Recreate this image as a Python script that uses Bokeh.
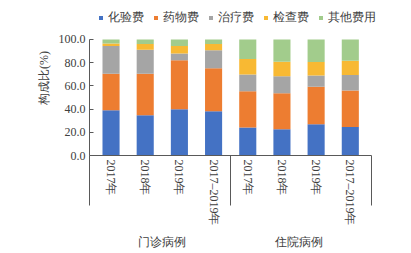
from bokeh.plotting import figure
from bokeh.models import (ColumnDataSource, Range1d, FixedTicker, NumeralTickFormatter,
                          Legend, LinearAxis, Title)
from bokeh.embed import file_html
from bokeh.resources import INLINE

# ---- data ----
years = ["2017年", "2018年", "2019年", "2017–2019年", "2017年", "2018年", "2019年", "2017–2019年"]
groups = ["门诊病例", "住院病例"]
series = ["化验费", "药物费", "治疗费", "检查费", "其他费用"]
lab = [39.0, 34.7, 39.8, 38.1, 24.1, 22.6, 26.9, 24.6]      # 化验费
drug = [31.5, 35.8, 42.4, 37.0, 31.2, 31.0, 32.4, 31.5]     # 药物费
treat = [23.8, 20.6, 5.8, 15.7, 14.6, 14.8, 9.7, 13.2]      # 治疗费
exam = [2.3, 4.9, 6.3, 5.2, 13.2, 12.4, 11.5, 12.4]         # 检查费
other = [3.4, 4.0, 5.7, 4.0, 16.9, 19.2, 19.5, 18.3]        # 其他费用
y_ticks = [0, 20, 40, 60, 80, 100]
y_title = "构成比(%)"

colors = ["#4472C4", "#ED7D31", "#A5A5A5", "#F8B933", "#A2CC8C"]
FONT = "Liberation Serif"
TXT = "#404040"
AX = "#595959"

xs = list(range(len(years)))
group_x = [1.5, 5.5]
x_lo, x_hi = -0.63, 7.62
sep_x = [-0.629, 3.5, 7.619]
src = ColumnDataSource(dict(x=xs, s0=lab, s1=drug, s2=treat, s3=exam, s4=other))

p = figure(frame_width=294, frame_height=155, output_backend="svg", toolbar_location=None,
           x_range=Range1d(x_lo, x_hi + 12 / 34.17), y_range=Range1d(0, 133.6),
           min_border_left=89, min_border_right=18, min_border_top=0, min_border_bottom=0)
p.outline_line_color = None
p.xgrid.visible = False
p.ygrid.visible = False
p.background_fill_color = None
p.border_fill_color = None

rs = p.vbar_stack(["s0", "s1", "s2", "s3", "s4"], x="x", width=0.5, color=colors,
                  line_color=None, source=src)

# y axis
ya = p.yaxis[0]
ya.bounds = (0, 100)
ya.ticker = FixedTicker(ticks=y_ticks)
ya.formatter = NumeralTickFormatter(format="0.0")
ya.major_label_text_font = FONT
ya.major_label_text_font_size = "12px"
ya.major_label_text_color = TXT
ya.axis_line_color = AX
ya.major_tick_line_color = AX
ya.major_tick_in = 4
ya.major_tick_out = 0
ya.minor_tick_line_color = None
ya.major_label_standoff = 4

# y title
p.add_layout(Title(text=y_title, align="center", offset=-3, text_font=FONT,
                   text_font_size="12px", text_font_style="normal", text_color=TXT), "left")

# x axis (years) with minor ticks as group separators
xa = p.xaxis[0]
xa.bounds = (x_lo, x_hi)
xa.ticker = FixedTicker(ticks=xs, minor_ticks=sep_x)
xa.major_label_overrides = {i: years[i] for i in xs}
xa.major_label_orientation = "vertical"
xa.major_label_text_font = FONT
xa.major_label_text_font_size = "12px"
xa.major_label_text_color = TXT
xa.axis_line_color = AX
xa.major_tick_line_color = None
xa.major_tick_in = 0
xa.major_tick_out = 0
xa.minor_tick_line_color = AX
xa.minor_tick_in = 0
xa.minor_tick_out = 50
xa.major_label_standoff = -46

# group label axis
ga = LinearAxis(ticker=FixedTicker(ticks=group_x),
                major_label_overrides={group_x[i]: groups[i] for i in range(len(groups))},
                axis_line_color=None, major_tick_line_color=None, minor_tick_line_color=None,
                major_tick_in=0, major_tick_out=0,
                major_label_text_font=FONT, major_label_text_font_size="12px",
                major_label_text_color=TXT, major_label_standoff=6)
p.add_layout(ga, "below")

legend = Legend(items=[(s, [r]) for s, r in zip(series, rs)], orientation="horizontal",
                location=(9, 129), glyph_width=5, glyph_height=5, label_standoff=5, spacing=9,
                padding=0, margin=0, border_line_color=None, background_fill_alpha=0,
                label_text_font=FONT, label_text_font_size="12px", label_text_color=TXT,
                label_height=14)
p.add_layout(legend, "center")

open("out.html", "w").write(file_html(p, INLINE))
